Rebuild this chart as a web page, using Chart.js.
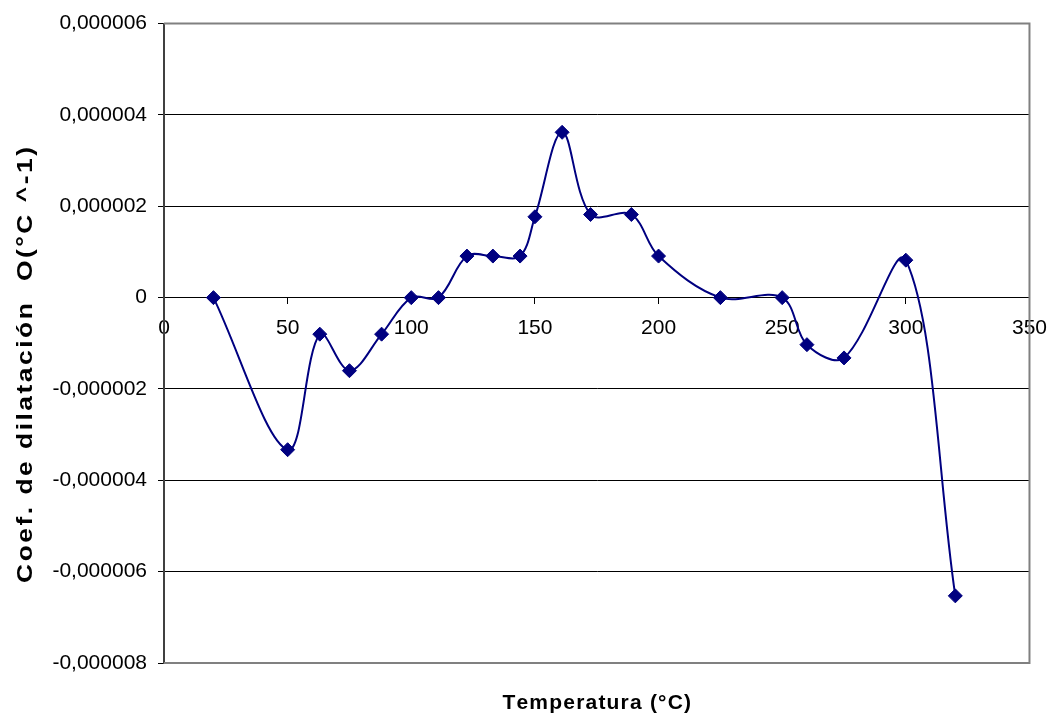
<!DOCTYPE html>
<html>
<head>
<meta charset="utf-8">
<title>Coef. de dilatación</title>
<script src="https://cdn.jsdelivr.net/npm/chart.js@4.4.1/dist/chart.umd.min.js"></script>
<style>
  html, body { margin: 0; padding: 0; background: #ffffff; }
  #wrap { width: 1059px; height: 720px; }
</style>
</head>
<body>
<div id="wrap"><canvas id="chart" width="1059" height="720"></canvas></div>
<script>
// Temperature (°C) and thermal expansion coefficient (°C^-1)
const temperaturas = [20, 50, 63, 75, 88, 100, 111, 122.5, 133, 144, 150, 161, 172.5, 189, 200, 225, 250, 260, 275, 300, 320];
const coeficientes = [0, -3.33e-6, -0.80e-6, -1.60e-6, -0.80e-6, 0, 0, 0.91e-6, 0.91e-6, 0.91e-6, 1.77e-6, 3.62e-6, 1.82e-6, 1.82e-6, 0.91e-6, 0, 0, -1.03e-6, -1.32e-6, 0.82e-6, -6.53e-6];

// Axis ranges and labels
const xTicks = [0, 50, 100, 150, 200, 250, 300, 350];
const yMin = -8e-6;
const yMax = 6e-6;
const yStep = 2e-6;
const xTitle = 'Temperatura (°C)';
const yTitle = 'Coef. de dilatación  O(°C ^-1)';

const FONT = "'Liberation Sans', Arial, Helvetica, sans-serif";
Chart.defaults.font.family = FONT;
Chart.defaults.color = '#000000';

const points = temperaturas.map((t, i) => ({ x: t, y: coeficientes[i] }));

const near = (a, b) => Math.abs(a - b) < 1e-12;

function fmtCoef(v) {
  if (Math.abs(v) < 1e-12) return '0';
  return v.toFixed(6).replace('.', ',');
}

// Draws a string centred on (0, 0), widened by `stretch` and with extra
// spacing between the characters
function spacedText(ctx, text, spacing, stretch) {
  const chars = Array.from(text);
  const widths = chars.map(ch => ctx.measureText(ch).width * stretch);
  const total = widths.reduce((s, w) => s + w, 0) + spacing * (chars.length - 1);
  let x = -total / 2;
  ctx.textAlign = 'left';
  ctx.textBaseline = 'middle';
  chars.forEach((ch, i) => {
    ctx.save();
    ctx.translate(x, 0);
    ctx.scale(stretch, 1);
    ctx.fillText(ch, 0, 0);
    ctx.restore();
    x += widths[i] + spacing;
  });
}

// Gray frame on the top, right and bottom edges of the plot area
const plotFrame = {
  id: 'plotFrame',
  beforeDatasetsDraw(chart) {
    const { ctx, chartArea: a } = chart;
    ctx.save();
    ctx.strokeStyle = '#808080';
    ctx.lineWidth = 2;
    ctx.beginPath();
    ctx.moveTo(a.left, a.top);
    ctx.lineTo(a.right, a.top);
    ctx.lineTo(a.right, a.bottom);
    ctx.lineTo(a.left, a.bottom);
    ctx.stroke();
    ctx.restore();
  }
};

// Axis titles: horizontal one under the plot, vertical one on the left edge
const axisTitles = {
  id: 'axisTitles',
  afterDraw(chart) {
    const { ctx, chartArea: a } = chart;
    ctx.save();
    ctx.fillStyle = '#000000';
    ctx.font = 'bold 21px ' + FONT;
    ctx.translate((a.left + a.right) / 2, 703);
    spacedText(ctx, xTitle, 1.2, 1);
    ctx.restore();

    ctx.save();
    ctx.fillStyle = '#000000';
    ctx.font = 'bold 22px ' + FONT;
    ctx.translate(26, 365);
    ctx.rotate(-Math.PI / 2);
    spacedText(ctx, yTitle, 2.5, 1.2);
    ctx.restore();
  }
};

new Chart(document.getElementById('chart'), {
  type: 'scatter',
  data: {
    datasets: [{
      data: points,
      showLine: true,
      borderColor: '#000080',
      backgroundColor: '#000080',
      borderWidth: 2,
      tension: 0.35,
      pointStyle: 'rectRot',
      pointRadius: 7,
      pointHoverRadius: 7,
      pointBorderWidth: 1,
      pointBorderColor: '#000080',
      pointBackgroundColor: '#000080'
    }]
  },
  options: {
    responsive: false,
    animation: false,
    events: [],
    layout: { padding: { top: 22, right: 27, bottom: 57, left: 0 } },
    plugins: {
      legend: { display: false },
      tooltip: { enabled: false },
      title: { display: false }
    },
    scales: {
      x: {
        type: 'linear',
        position: { y: 0 },
        min: 0,
        max: 350,
        afterBuildTicks(scale) { scale.ticks = xTicks.map(v => ({ value: v })); },
        ticks: {
          color: '#000000',
          font: { size: 21, family: FONT },
          padding: 12,
          maxRotation: 0,
          autoSkip: false
        },
        grid: {
          drawOnChartArea: false,
          drawTicks: true,
          tickLength: 6,
          tickColor: '#000000'
        },
        border: { color: '#000000', width: 1 }
      },
      y: {
        type: 'linear',
        position: 'left',
        min: yMin,
        max: yMax,
        afterFit(scale) { scale.width = 164; },
        ticks: {
          stepSize: yStep,
          color: '#000000',
          font: { size: 21, family: FONT },
          padding: 11,
          callback: (v) => fmtCoef(v)
        },
        grid: {
          color: (c) => (c.tick && (near(c.tick.value, yMin) || near(c.tick.value, yMax))) ? 'rgba(0,0,0,0)' : '#000000',
          lineWidth: 1,
          drawTicks: true,
          tickLength: 6,
          tickColor: '#000000'
        },
        border: { color: '#404040', width: 2 }
      }
    }
  },
  plugins: [plotFrame, axisTitles]
});
</script>
</body>
</html>
